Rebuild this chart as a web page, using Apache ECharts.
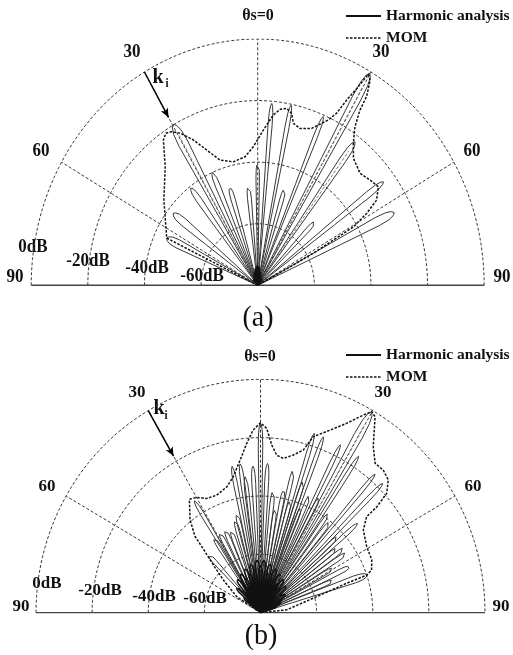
<!DOCTYPE html>
<html><head><meta charset="utf-8">
<script src="https://cdn.jsdelivr.net/npm/echarts@6/dist/echarts.min.js"></script>
<style>html,body{margin:0;padding:0;background:#fff}#c{width:513px;height:655px}</style>
</head><body><div id="c"></div>
<script>
// ================= DATA =================
const dbTicks = [0, -20, -40, -60];
const dbTickLabels = ['0dB', '-20dB', '-40dB', '-60dB'];
const spokeAngles = [-60, -30, 0, 30, 60];
const angleLabels = ['θs=0', '30', '60', '90'];
const seriesNames = ['Harmonic analysis', 'MOM'];
const captions = ['(a)', '(b)'];
const kiAngle = -30;            // incidence direction (deg)
const kiFromDb = [0, 0];
const kiToDb = [-17, -18];

// ---- panel (a): harmonic-analysis lobes ----
const aLobeAngle = [-64.5, -51.9, -36.8, -29.7, -23.6, -17.3, -5.9, 0, 4.8, 11.4, 16.9, 22.9, 29.9, 36.4, 44.4, 52.9, 63.9];
const aLobePeak  = [-44.4, -42.1, -40.6, -19.8, -40.0, -46.7, -47.8, -40.4, -20.7, -20.3, -47.3, -20.5, -0.5, -22.1, -51.1, -24.3, -26.3];
const aLobeHalfBW = [2.6, 2.2, 1.6, 1.9, 1.4, 1.5, 1.4, 1.0, 0.8, 0.8, 1.4, 0.8, 1.3, 1.3, 1.6, 1.2, 1.8];
const aMinorAngle = [-40, -30, -22, -15, -9, -4, 0, 4, 9, 15, 22, 30, 40];
const aMinorPeak  = [-77.5, -77, -76, -75, -74.5, -74, -73.5, -74, -74.5, -75, -76, -77, -77.5];
// ---- panel (a): MOM ----
const aMomAngle = [-65, -64.5, -50.1, -40.3, -35.2, -33.3, -31.3, -29.0, -25.7, -22.3, -18.1, -12.1, -6.1, -2.0, 2.3, 5.7, 7.9, 10.1, 12.1, 13.5, 16.3, 20.5, 23.3, 24.9, 26.5, 27.6, 28.7, 29.7, 30.8, 32.1, 32.4, 33.7, 36.2, 39.4, 44.8, 49.3, 53.1, 56.6, 58.7, 60.7, 61.2, 62.0, 62.2, 62.0];
const aMomDb    = [-80, -44.4, -36.8, -29.5, -22.2, -20.9, -21.6, -23.5, -27.6, -32.5, -37.2, -39.0, -38.0, -35.0, -29.5, -24.4, -22.3, -21.6, -22.9, -25.9, -26.9, -25.6, -22.7, -20.8, -17.5, -12.1, -7.1, -1.0, -2.4, -7.6, -12.6, -18.1, -22.8, -26.7, -28.7, -27.6, -26.7, -29.7, -34.9, -41.2, -49.5, -57.8, -67.1, -80];
const aMomRayAngle = [-29.7, 29.9, 36.4];
const aMomRayDb = [-21, -2, -23];

// ---- panel (b): harmonic-analysis lobes ----
const bLobeAngle = [-43, -33, -31.5, -28, -24, -20.5, -16, -14, -11.4, -8.1, -6.7, -3.1, 0, 2.8, 6.2, 8.5, 11.2, 13.5, 15.5, 17.3, 18.8, 20.4, 21.8, 23.5, 26.3, 28, 29.9, 33.1, 35.5, 38.4, 40.7, 44.5, 46.5, 48.5, 51, 53.4, 56.3, 59.5, 63.6, 67, 71.2];
const bLobePeak  = [-53, -49.5, -35, -49, -49, -50, -47, -45, -28.8, -28.5, -33.1, -29.7, -15.1, -28.8, -38, -44, -37.1, -29.5, -40, -15.6, -32.1, -15.7, -41, -36, -15.8, -35, -0.5, -16, -38, -40.2, -17.4, -17.9, -42, -33.9, -45, -42.9, -43.2, -50, -44.5, -52, -39.8];
const bLobeHalfBW = [1.7, 1.5, 1.0, 1.5, 1.5, 1.5, 1.4, 1.3, 0.9, 0.9, 1.0, 0.9, 0.8, 0.9, 1.1, 1.2, 1.1, 0.9, 1.1, 0.7, 1.0, 0.7, 1.1, 1.0, 0.7, 1.0, 1.3, 0.7, 1.0, 1.2, 0.7, 0.8, 1.2, 1.0, 1.3, 1.3, 1.3, 1.4, 1.5, 1.6, 2.0];
const bMinorAngle = [-50, -45, -40, -36, -32, -28, -24, -20, -16, -12, -8, -4, 0, 4, 8, 12, 16, 20, 24, 28, 32, 36, 40, 45, 50, 55, 60, 66, 72];
const bMinorPeak  = [-72, -68, -70, -66, -69, -65, -67, -64, -66, -63, -65, -62, -64, -62, -65, -63, -66, -64, -67, -65, -68, -66, -69, -67, -70, -69, -71, -72, -74];
// ---- panel (b): MOM ----
const bMomAngle = [-57, -57, -50, -46, -43, -41.7, -38.3, -33.1, -29.9, -26.1, -21.2, -15.5, -11.8, -7.9, -4.8, -2.4, 0, 2.0, 4.0, 6.1, 8.7, 12.2, 15.3, 17.3, 21.6, 25.3, 28.4, 29.9, 31.3, 35.2, 38.6, 41.8, 45.0, 47.7, 48.8, 49.0, 52.3, 59.1, 65.4, 69.7, 71.2, 71.8, 74.6, 84, 84];
const bMomDb    = [-80, -69.9, -63, -57, -50, -44.9, -39.5, -33.6, -34.4, -36.4, -36.8, -35.2, -32.4, -27.2, -21.7, -17.3, -14.9, -16.8, -22.4, -25.7, -26.5, -24.7, -22.2, -16.8, -12.7, -8.2, -3.0, -0.5, -1.4, -10.3, -14.5, -14.4, -15.6, -19.2, -24.9, -29.9, -33.7, -35.9, -36.4, -37.8, -40.0, -47.7, -59.2, -70.6, -80];
const bMomRayAngle = [29.9];
const bMomRayDb = [-2];

// ================= BUILD =================
const R0 = -80;            // level at the centre of the plot
const MINOR_HBW = 2.5;
const FONT = '"Liberation Serif", "Times New Roman", serif';
function pt(angDeg, r) { const t = angDeg * Math.PI / 180; return [r * Math.sin(t), r * Math.cos(t)]; }
function petals(angles, peaks, hbw) {
  const out = [[0, 0]];
  const prof = [[0.6, 1], [0.88, 1], [0.95, 0.8], [0.985, 0.45]];
  angles.forEach((a, i) => {
    const r = peaks[i] - R0, w = (typeof hbw === 'number') ? hbw : hbw[i];
    prof.forEach(([f, k]) => out.push(pt(a - w * k, r * f)));
    out.push(pt(a, r));
    for (let j = prof.length - 1; j >= 0; j--) { const [f, k] = prof[j]; out.push(pt(a + w * k, r * f)); }
    out.push([0, 0]);
  });
  return out;
}
function curve(angles, dbs) { return angles.map((a, i) => pt(a, dbs[i] - R0)); }

const panels = [
  { grid: { left: 31.2, top: 39, width: 453, height: 246.3 }, sy: 1.08,
    lobes: [aLobeAngle, aLobePeak, aLobeHalfBW], minor: [aMinorAngle, aMinorPeak],
    mom: [aMomAngle, aMomDb], rays: [aMomRayAngle, aMomRayDb],
    labels: { theta: [258, 16], l30: [132, 52], r30: [381, 52], l60: [41, 151], r60: [472, 151], l90: [15, 277], r90: [502, 277],
              db: [[33, 247], [88, 261], [147, 268], [202, 276]], cap: [258, 318], k: [158, 77], i: [167, 84] },
    legendTop: 3 },
  { grid: { left: 36, top: 379.3, width: 449, height: 233.4 }, sy: 1.04,
    lobes: [bLobeAngle, bLobePeak, bLobeHalfBW], minor: [bMinorAngle, bMinorPeak],
    mom: [bMomAngle, bMomDb], rays: [bMomRayAngle, bMomRayDb],
    labels: { theta: [260, 357], l30: [137, 392], r30: [383, 392], l60: [47, 486], r60: [473, 486], l90: [21, 606], r90: [501, 606],
              db: [[47, 583], [100, 590], [154, 596], [205, 598]], cap: [261, 636], k: [159, 409], i: [166, 416] },
    legendTop: 342 }
];

const grids = [], xAxes = [], yAxes = [], series = [], graphics = [], legends = [];
function lineS(gi, data, style, z, name) {
  return { type: 'line', name: name, xAxisIndex: gi, yAxisIndex: gi, data: data, symbol: 'none', silent: true,
           itemStyle: { color: style.color }, lineStyle: style, z: z, animation: false };
}
function txt(x, y, text, font, sy) {
  return { type: 'text', x: x, y: y, scaleY: sy || 1, silent: true,
    style: { text: text, font: font, fill: '#111', align: 'center', verticalAlign: 'middle', textAlign: 'center', textVerticalAlign: 'middle' } };
}

panels.forEach((p, gi) => {
  grids.push(Object.assign({ containLabel: false }, p.grid));
  xAxes.push({ type: 'value', gridIndex: gi, min: R0, max: -R0, show: false });
  yAxes.push({ type: 'value', gridIndex: gi, min: 0, max: -R0, show: false });
  const gridStyle = { color: '#3a3a3a', width: 1, type: [3, 2] };
  dbTicks.forEach(db => {
    const d = []; for (let a = -90; a <= 90; a += 2) d.push(pt(a, db - R0));
    series.push(lineS(gi, d, gridStyle, 1));
  });
  spokeAngles.forEach(a => series.push(lineS(gi, [[0, 0], pt(a, dbTicks[0] - R0)], gridStyle, 1)));
  series.push(lineS(gi, [pt(-90, dbTicks[0] - R0), pt(90, dbTicks[0] - R0)], { color: '#444', width: 1.5, type: 'solid' }, 1));
  // MOM envelope
  series.push(lineS(gi, curve(p.mom[0], p.mom[1]), { color: '#111', width: 1.5, type: [2.5, 1.5] }, 5, seriesNames[1]));
  // harmonic analysis lobes
  series.push(lineS(gi, petals(p.lobes[0], p.lobes[1], p.lobes[2]),
    { color: '#383838', width: 1, type: 'solid' }, 3, seriesNames[0]));
  series.push(lineS(gi, petals(p.minor[0], p.minor[1], MINOR_HBW),
    { color: '#111', width: 1.5, type: 'solid' }, 3, seriesNames[0]));
  // dashed rays inside main lobes
  p.rays[0].forEach((a, i) => {
    const r = p.rays[1][i] - R0;
    series.push(lineS(gi, [pt(a, r * 0.15), pt(a, r * 0.95)], { color: '#777', width: 1, type: [3, 2] }, 4));
  });
  // k_i arrow
  series.push({ type: 'line', xAxisIndex: gi, yAxisIndex: gi, data: [], symbol: 'none', animation: false, silent: true,
    markLine: { silent: true, animation: false, symbol: ['none', 'arrow'], symbolSize: [6, 9], label: { show: false },
      lineStyle: { color: '#000', width: 1.5, type: 'solid' },
      data: [[{ coord: pt(kiAngle, kiFromDb[gi] - R0), symbol: 'none' }, { coord: pt(kiAngle, kiToDb[gi] - R0), symbol: 'arrow' }]] } });

  legends.push({ left: 340, top: p.legendTop, orient: 'vertical', itemWidth: 35, itemHeight: 14, itemGap: 6,
    selectedMode: false,
    textStyle: { fontFamily: FONT, fontWeight: 'bold', fontSize: 15.5, color: '#111' },
    data: [{ name: seriesNames[0], lineStyle: { color: '#111', width: 2 }, itemStyle: { opacity: 0 } },
           { name: seriesNames[1], lineStyle: { color: '#111', width: 1.5 }, itemStyle: { opacity: 0 } }] });

  const L = p.labels, bold = 'bold 17px ' + FONT, sy = p.sy;
  graphics.push(txt(L.theta[0], L.theta[1], angleLabels[0], 'bold 16px ' + FONT, sy));
  graphics.push(txt(L.l30[0], L.l30[1], angleLabels[1], bold, sy));
  graphics.push(txt(L.r30[0], L.r30[1], angleLabels[1], bold, sy));
  graphics.push(txt(L.l60[0], L.l60[1], angleLabels[2], bold, sy));
  graphics.push(txt(L.r60[0], L.r60[1], angleLabels[2], bold, sy));
  graphics.push(txt(L.l90[0], L.l90[1], angleLabels[3], bold, sy));
  graphics.push(txt(L.r90[0], L.r90[1], angleLabels[3], bold, sy));
  L.db.forEach((xy, i) => graphics.push(txt(xy[0], xy[1], dbTickLabels[i], bold, sy)));
  graphics.push(txt(L.cap[0], L.cap[1], captions[gi], '28px ' + FONT, sy));
  graphics.push(txt(L.k[0], L.k[1], 'k', 'bold 20px ' + FONT, sy));
  graphics.push(txt(L.i[0], L.i[1], 'i', 'bold 11px ' + FONT, sy));
});

const chart = echarts.init(document.getElementById('c'), null, { renderer: 'canvas' });
chart.setOption({
  backgroundColor: '#fff', animation: false,
  grid: grids, xAxis: xAxes, yAxis: yAxes, legend: legends, series: series,
  graphic: { elements: graphics }
});
</script></body></html>
